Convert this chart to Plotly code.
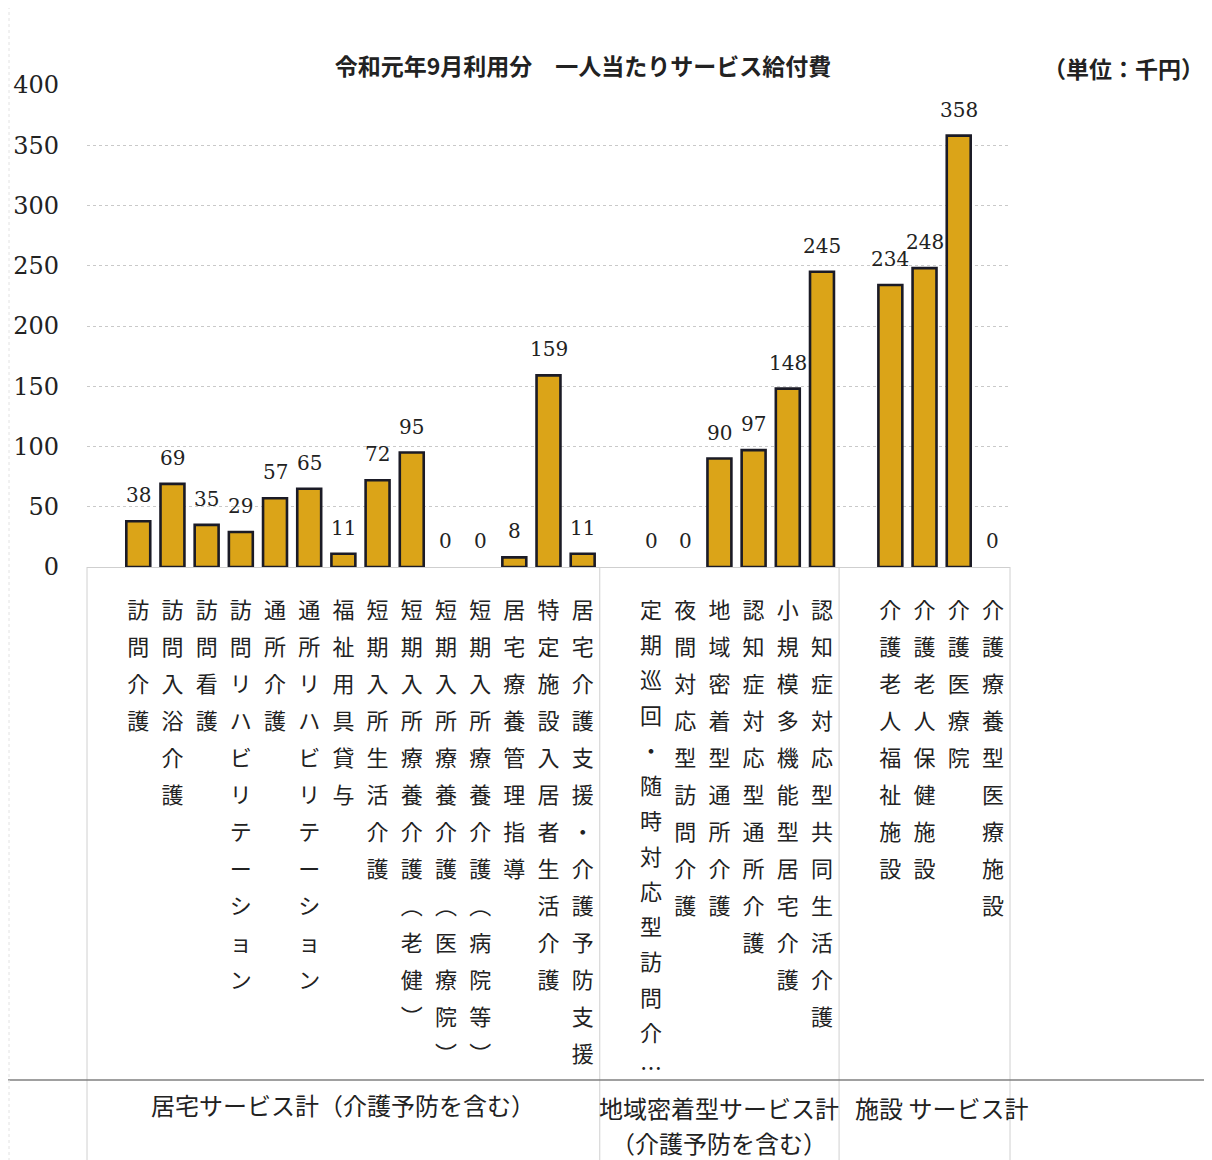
import plotly.graph_objects as go

# ---- data ----
group_titles = ["居宅サービス計（介護予防を含む）",
                "地域密着型サービス計",
                "（介護予防を含む）",
                "施設 サービス計"]
names_home = ["訪問介護", "訪問入浴介護", "訪問看護", "訪問リハビリテーション", "通所介護",
              "通所リハビリテーション", "福祉用具貸与", "短期入所生活介護",
              "短期入所療養介護（老健）", "短期入所療養介護（医療院）", "短期入所療養介護（病院等）",
              "居宅療養管理指導", "特定施設入居者生活介護", "居宅介護支援・介護予防支援"]
vals_home = [38, 69, 35, 29, 57, 65, 11, 72, 95, 0, 0, 8, 159, 11]
names_local = ["定期巡回・随時対応型訪問介…", "夜間対応型訪問介護", "地域密着型通所介護",
               "認知症対応型通所介護", "小規模多機能型居宅介護", "認知症対応型共同生活介護"]
vals_local = [0, 0, 90, 97, 148, 245]
names_fac = ["介護老人福祉施設", "介護老人保健施設", "介護医療院", "介護療養型医療施設"]
vals_fac = [234, 248, 358, 0]
y_ticks = [0, 50, 100, 150, 200, 250, 300, 350, 400]
title_text = "令和元年9月利用分　一人当たりサービス給付費"
unit_text = "（単位：千円）"

groups = [(names_home, vals_home), (names_local, vals_local), (names_fac, vals_fac)]

# Build category list; each group starts with an empty slot
cats, vals, bounds = [], [], [-0.5]
for gi, (nm, vl) in enumerate(groups):
    cats.append(" " * (gi + 1))
    vals.append(None)
    cats.extend(nm)
    vals.extend(vl)
    bounds.append(len(cats) - 0.5)
n = len(cats)

def vertical(s):
    s = s.replace("（", "︵").replace("）", "︶")
    return "<br>".join(f'<span style="font-size:22px">{c}</span>' for c in s)

# the truncated (longest) label is squeezed in the original; draw it separately
squeezed = names_local[0]
ticktext = [vertical(c) if (c.strip() and c != squeezed) else "" for c in cats]

# page has an 8px body margin -> figure drawn at (8, 8)
OFF = 8
W, H = 1212 - OFF, 1160 - OFF
L, R = 87 - OFF, 1010 - OFF
T, B = 85 - OFF, 567 - OFF
pw, ph = R - L, B - T

def px2x(px):
    return (px - OFF - L) / pw

def py2y(py):
    return (B - (py - OFF)) / ph

fig = go.Figure()
fig.add_trace(go.Bar(
    x=cats, y=vals,
    marker=dict(color="#DBA418",
                line=dict(color="#1b1b26", width=[0 if not v else 2.6 for v in vals])),
    hoverinfo="skip",
))

# value labels
for c, v in zip(cats, vals):
    if v is None:
        continue
    fig.add_annotation(x=c, y=v, text=str(v), showarrow=False, yanchor="bottom",
                       yshift=12, font=dict(family="DejaVu Serif", size=20, color="#222"))

# squeezed vertical label
fig.add_annotation(x=squeezed, xref="x", y=py2y(591), yref="paper", text=vertical(squeezed),
                   showarrow=False, xanchor="center", yanchor="top", borderpad=0,
                   font=dict(family="Noto Sans CJK JP", size=27.1, color="#222"))

# group labels
centers = [(bounds[i] + bounds[i + 1]) / 2 for i in range(len(bounds) - 1)]
label_pos = [(centers[0], 1104), (centers[1], 1107), (centers[1], 1142),
             (centers[2] + 0.5, 1107)]
for t, (cx, yy) in zip(group_titles, label_pos):
    fig.add_annotation(x=cx, xref="x", y=py2y(yy), yref="paper", text=t,
                       showarrow=False, xanchor="center", yanchor="middle",
                       font=dict(family="Noto Sans CJK JP", size=24, color="#222"))

fig.add_annotation(x=px2x(1206), xref="paper", y=py2y(68), yref="paper",
                   text=f"<b>{unit_text}</b>", showarrow=False, xanchor="right",
                   yanchor="middle", font=dict(family="Noto Sans CJK JP", size=23, color="#222"))

shapes = []
for b in bounds:
    xp = (b + 0.5) / n
    shapes.append(dict(type="line", xref="paper", yref="paper", x0=xp, x1=xp,
                       y0=0, y1=py2y(1170), line=dict(color="#d0d0d0", width=1)))
shapes.append(dict(type="line", xref="paper", yref="paper", x0=px2x(0), x1=px2x(1220),
                   y0=py2y(1080), y1=py2y(1080), line=dict(color="#808080", width=1.5)))
shapes.append(dict(type="line", xref="paper", yref="paper", x0=px2x(9), x1=px2x(9),
                   y0=py2y(0), y1=py2y(1170), line=dict(color="#e2e2e2", width=1, dash="dot")))

fig.update_layout(
    width=W, height=H,
    margin=dict(l=L, r=W - R, t=T, b=H - B, autoexpand=False),
    paper_bgcolor="white", plot_bgcolor="white",
    bargap=0.3, showlegend=False,
    title=dict(text=f"<b>{title_text}</b>", x=(583 - OFF) / W, xanchor="center",
               y=1 - (67 - OFF) / H, yanchor="middle",
               font=dict(family="Noto Sans CJK JP", size=23, color="#222")),
    shapes=shapes,
    xaxis=dict(type="category", tickmode="array", tickvals=cats, ticktext=ticktext,
               range=[-0.5, n - 0.5], tickangle=0, ticks="", showgrid=False,
               showline=False, zeroline=False, automargin=False, ticklabelstandoff=21,
               tickfont=dict(family="Noto Sans CJK JP", size=28.5, color="#222")),
    yaxis=dict(range=[0, 400], tickmode="array", tickvals=y_ticks, ticks="",
               showgrid=True, gridcolor="#c9c9c9", griddash="dot", gridwidth=1,
               zeroline=True, zerolinecolor="#cfcfcf", zerolinewidth=1,
               showline=False, automargin=False, ticklabelstandoff=27,
               tickfont=dict(family="DejaVu Serif", size=24, color="#222")),
)

fig.write_html("out.html")
